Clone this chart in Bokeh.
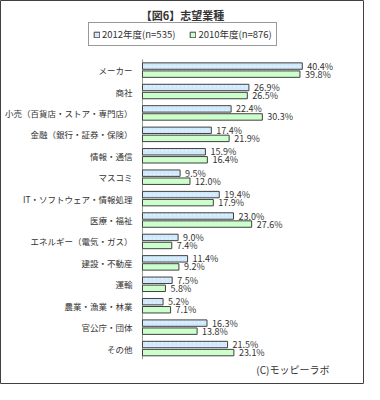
from bokeh.plotting import figure
from bokeh.models import ColumnDataSource, Range1d, Label, Legend, LegendItem
from bokeh.core.properties import value
from bokeh.embed import file_html
from bokeh.resources import INLINE

categories = ["メーカー", "商社", "小売（百貨店・ストア・専門店）", "金融（銀行・証券・保険）",
              "情報・通信", "マスコミ", "IT・ソフトウェア・情報処理", "医療・福祉",
              "エネルギー（電気・ガス）", "建設・不動産", "運輸", "農業・漁業・林業",
              "官公庁・団体", "その他"]
v2012 = [40.4, 26.9, 22.4, 17.4, 15.9, 9.5, 19.4, 23.0, 9.0, 11.4, 7.5, 5.2, 16.3, 21.5]
v2010 = [39.8, 26.5, 30.3, 21.9, 16.4, 12.0, 17.9, 27.6, 7.4, 9.2, 5.8, 7.1, 13.8, 23.1]
series_names = ["2012年度(n=535)", "2010年度(n=876)"]
title_text = "【図6】志望業種"
credit_text = "(C)モッピーラボ"

FONT = "Noto Sans CJK JP"
TXT = "#333333"

n = len(categories)
idx = list(range(n))
off = 0.188
bh = 0.30

src = ColumnDataSource(dict(
    cat=categories, pos=idx, zero=[0] * n,
    y12=[i - off for i in idx], y10=[i + off for i in idx],
    v2012=v2012, v2010=v2010,
    t2012=[f"{v:.1f}%" for v in v2012],
    t2010=[f"{v:.1f}%" for v in v2010],
))

W, H = 364, 384
p = figure(width=W, height=H, output_backend="svg", toolbar_location=None,
           x_range=Range1d(-35.9, 56.12), y_range=Range1d(14.678, -3.249),
           min_border=0, min_border_left=0, min_border_right=0,
           min_border_top=0, min_border_bottom=0)
p.xaxis.visible = False
p.yaxis.visible = False
p.xgrid.visible = False
p.ygrid.visible = False
p.outline_line_color = "#404040"
p.outline_line_width = 1
p.background_fill_color = "white"
p.border_fill_color = "white"

# axis line at value 0 spanning the category band
p.segment(x0=[0], x1=[0], y0=[-0.5], y1=[n - 0.5], line_color="#999999", line_width=1)

r1 = p.hbar(y="y12", right="v2012", left=0, height=bh, source=src,
            fill_color="#cfe8fc", line_color="#404040", line_width=1,
            hatch_pattern="dot", hatch_color="#ffffff", hatch_alpha=0.5, hatch_scale=4)
r2 = p.hbar(y="y10", right="v2010", left=0, height=bh, source=src,
            fill_color="#ccffcc", line_color="#404040", line_width=1)

# category labels
p.text(x="zero", y="pos", text="cat", source=src, x_offset=-10,
       text_baseline="middle", text_align="right",
       text_font_size="8.5px", text_color=TXT, text_font=value(FONT))

p.text(x="v2012", y="y12", text="t2012", source=src,
       x_offset=5, text_baseline="middle", text_align="left",
       text_font_size="9px", text_color=TXT, text_font=value(FONT))
p.text(x="v2010", y="y10", text="t2010", source=src,
       x_offset=5, text_baseline="middle", text_align="left",
       text_font_size="9px", text_color=TXT, text_font=value(FONT))

legend = Legend(items=[LegendItem(label=series_names[0], renderers=[r1]),
                       LegendItem(label=series_names[1], renderers=[r2])],
                orientation="horizontal", location=(88, H - 46),
                border_line_color="#333333", border_line_width=1,
                background_fill_color="white", background_fill_alpha=1,
                label_text_font=FONT, label_text_font_size="9.5px", label_text_color=TXT,
                glyph_width=7, glyph_height=7, label_height=10, label_standoff=2,
                padding=4, margin=0, spacing=14)
p.add_layout(legend, "center")

p.add_layout(Label(x=182, y=H - 14.5, x_units="screen", y_units="screen", text=title_text,
                   text_align="center", text_baseline="middle", text_font=FONT,
                   text_font_size="11px", text_font_style="bold", text_color=TXT))
p.add_layout(Label(x=329, y=H - 368.5, x_units="screen", y_units="screen", text=credit_text,
                   text_align="right", text_baseline="middle", text_font=FONT,
                   text_font_size="10px", text_color=TXT))

open("out.html", "w").write(file_html(p, INLINE))
